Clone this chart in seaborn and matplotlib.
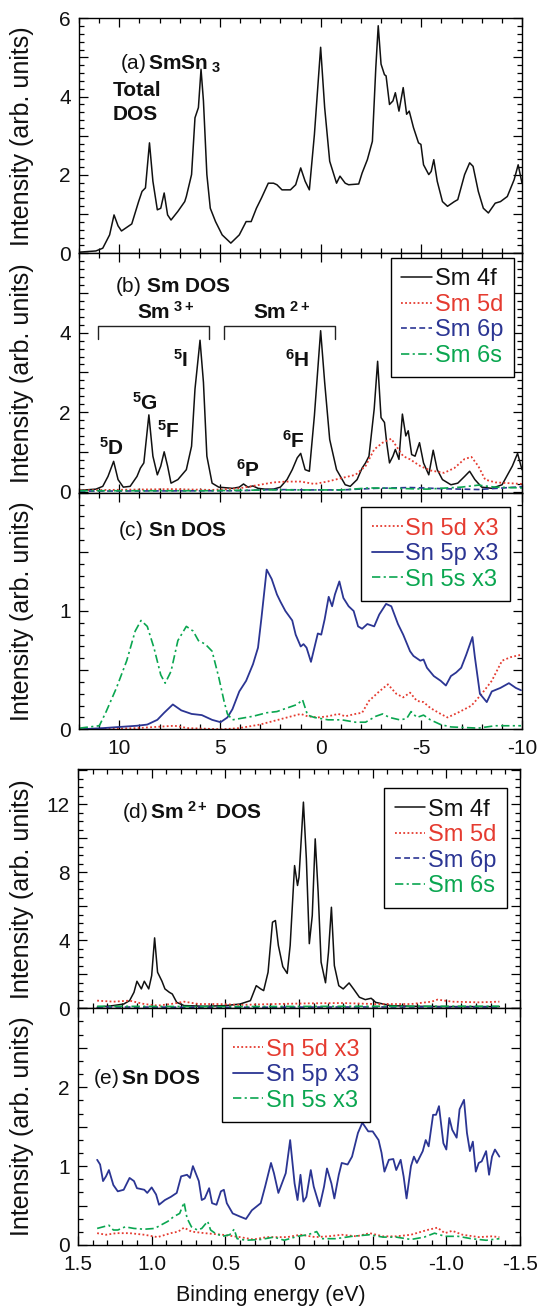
import matplotlib
matplotlib.use("Agg")
import matplotlib.pyplot as plt
from matplotlib.ticker import MultipleLocator, FixedLocator, FixedFormatter
import seaborn as sns

# ---------------- data ----------------
# (a) total DOS
a_x = [11.97, 11.16, 10.82, 10.48, 10.26, 10.06, 9.89, 9.38, 9.04, 8.87,
       8.70, 8.50, 8.33, 8.11, 7.94, 7.77, 7.60, 7.43, 7.09, 6.75,
       6.67, 6.41, 6.24, 6.07, 5.94, 5.82, 5.65, 5.48, 5.22, 4.89,
       4.46, 4.04, 3.70, 3.45, 3.19, 2.94, 2.60, 2.34, 2.17, 1.92,
       1.50, 1.24, 0.99, 0.77, 0.56, 0.31, 0.00, -0.20, -0.45, -0.79,
       -0.96, -1.22, -1.39, -1.89, -2.06, -2.32, -2.57, -2.74, -2.86, -3.00,
       -3.17, -3.25, -3.42, -3.59, -3.71, -3.89, -4.10, -4.27, -4.40, -4.61,
       -4.86, -4.98, -5.11, -5.37, -5.49, -5.62, -5.79, -6.05, -6.30, -6.64,
       -6.81, -7.15, -7.40, -7.57, -7.83, -8.08, -8.33, -8.67, -8.93, -9.27,
       -9.61, -9.81, -10.0]
a_total = [0.03, 0.06, 0.13, 0.47, 0.98, 0.70, 0.57, 0.75, 1.32, 1.58,
           1.67, 2.82, 1.84, 1.11, 1.15, 1.54, 0.98, 0.85, 1.07, 1.32,
           1.45, 2.01, 3.46, 3.72, 4.70, 3.89, 2.01, 1.15, 0.81, 0.47,
           0.26, 0.47, 0.81, 0.81, 1.15, 1.41, 1.79, 1.79, 1.75, 1.62,
           1.62, 1.75, 2.18, 1.84, 1.62, 3.03, 5.26, 3.72, 2.35, 1.79,
           1.97, 1.79, 1.75, 1.77, 2.05, 2.39, 2.86, 4.74, 5.81, 4.83,
           4.56, 4.53, 3.80, 3.89, 4.10, 3.63, 4.23, 3.55, 3.63, 3.21,
           2.82, 2.78, 2.26, 2.01, 2.09, 2.39, 1.84, 1.32, 1.20, 1.32,
           1.37, 2.01, 2.31, 2.22, 1.58, 1.15, 1.03, 1.28, 1.32, 1.45,
           1.88, 2.26, 1.79]

# (b) Sm partial DOS
b4f_x = [11.97, 11.16, 10.82, 10.56, 10.28, 10.06, 9.80, 9.46, 9.12, 8.95,
         8.78, 8.53, 8.33, 8.11, 7.94, 7.77, 7.60, 7.43, 7.09, 6.67,
         6.41, 6.24, 5.99, 5.82, 5.65, 5.39, 5.06, 4.38, 4.04, 3.83,
         3.61, 3.36, 3.11, 2.77, 2.34, 2.00, 1.67, 1.41, 1.16, 0.99,
         0.77, 0.56, 0.31, 0.00, -0.20, -0.45, -0.79, -1.22, -1.47, -1.81,
         -2.06, -2.23, -2.40, -2.66, -2.83, -3.00, -3.17, -3.28, -3.42, -3.59,
         -3.71, -3.89, -4.06, -4.23, -4.35, -4.52, -4.69, -4.91, -5.11, -5.37,
         -5.59, -5.79, -6.05, -6.47, -6.81, -7.15, -7.40, -7.66, -8.00, -8.50,
         -9.01, -9.52, -9.78, -10.0]
b4f_y = [0.03, 0.06, 0.13, 0.38, 0.76, 0.30, 0.11, 0.13, 0.38, 0.59,
         0.72, 1.93, 0.89, 0.42, 0.64, 1.00, 0.64, 0.21, 0.30, 0.55,
         1.14, 2.58, 3.81, 2.75, 0.89, 0.21, 0.11, 0.08, 0.11, 0.19,
         0.11, 0.14, 0.08, 0.06, 0.06, 0.11, 0.30, 0.55, 0.85, 0.96,
         0.55, 0.51, 1.91, 4.05, 2.75, 1.31, 0.55, 0.17, 0.13, 0.30,
         0.59, 0.72, 0.89, 2.08, 3.28, 1.86, 1.74, 1.23, 0.72, 0.89,
         1.06, 0.81, 1.95, 1.40, 1.53, 0.93, 0.89, 1.23, 0.72, 0.42,
         1.04, 0.55, 0.30, 0.17, 0.21, 0.38, 0.51, 0.30, 0.11, 0.08,
         0.17, 0.64, 0.96, 0.55]
b5d_x = [11.97, 7.43, 5.39, 4.04, 3.02, 2.34, 1.67, 0.99, 0.31, -0.33,
         -1.05, -1.73, -2.23, -2.66, -3.08, -3.51, -3.76, -4.10, -4.44, -4.95,
         -5.46, -6.13, -6.64, -7.15, -7.49, -7.83, -8.17, -8.67, -9.35, -10.0]
b5d_y = [0.03, 0.06, 0.04, 0.08, 0.17, 0.23, 0.25, 0.25, 0.19, 0.25,
         0.34, 0.42, 0.64, 1.06, 1.23, 1.33, 1.14, 0.89, 0.81, 0.64,
         0.53, 0.47, 0.59, 0.82, 0.87, 0.64, 0.30, 0.23, 0.21, 0.19]
b6p_x = [11.97, 4.04, 2.34, 0.65, -1.05, -2.74, -4.44, -6.13, -7.83, -10.0]
b6p_y = [0.01, 0.02, 0.05, 0.04, 0.04, 0.08, 0.10, 0.07, 0.05, 0.12]
b6s_x = [11.97, 5.73, 2.34, -1.05, -2.40, -3.59, -5.28, -6.98, -7.83, -8.67, -10.0]
b6s_y = [0.02, 0.02, 0.04, 0.04, 0.09, 0.08, 0.06, 0.11, 0.16, 0.11, 0.09]

# (c) Sn partial DOS (x3)
c5p_x = [11.97, 10.82, 9.97, 9.12, 8.61, 8.11, 7.77, 7.34, 6.92, 6.41,
         5.90, 5.39, 4.97, 4.63, 4.38, 4.04, 3.70, 3.36, 3.11, 2.94,
         2.68, 2.43, 2.17, 2.00, 1.75, 1.41, 1.24, 0.99, 0.85, 0.70,
         0.48, 0.31, 0.14, -0.03, -0.20, -0.40, -0.57, -0.71, -0.93, -1.13,
         -1.39, -1.64, -1.86, -2.06, -2.32, -2.66, -2.91, -3.25, -3.51, -3.84,
         -4.10, -4.27, -4.44, -4.61, -4.95, -5.11, -5.28, -5.62, -5.96, -6.22,
         -6.47, -6.73, -6.98, -7.23, -7.54, -7.66, -7.91, -8.25, -8.50, -8.93,
         -9.35, -9.69, -9.95]
c5p_y = [0.00, 0.01, 0.02, 0.03, 0.04, 0.08, 0.14, 0.21, 0.16, 0.13,
         0.12, 0.08, 0.06, 0.10, 0.17, 0.32, 0.41, 0.55, 0.69, 0.94,
         1.35, 1.27, 1.14, 1.08, 1.00, 0.92, 0.80, 0.70, 0.72, 0.69,
         0.57, 0.69, 0.81, 0.80, 0.93, 1.12, 1.04, 1.14, 1.25, 1.11,
         1.04, 1.00, 0.87, 0.85, 0.89, 0.87, 0.97, 1.06, 1.04, 0.89,
         0.80, 0.73, 0.66, 0.62, 0.58, 0.59, 0.52, 0.45, 0.41, 0.37,
         0.45, 0.48, 0.52, 0.63, 0.78, 0.61, 0.30, 0.23, 0.32, 0.35,
         0.39, 0.35, 0.33]
c5s_x = [11.97, 10.99, 10.65, 10.14, 9.63, 9.21, 8.92, 8.61, 8.28, 7.94,
         7.72, 7.43, 7.09, 6.67, 6.33, 6.07, 5.73, 5.39, 5.06, 4.80,
         4.63, 4.38, 4.04, 3.36, 2.68, 2.17, 1.67, 1.16, 0.90, 0.65,
         0.31, -0.37, -1.05, -1.73, -2.23, -2.74, -3.08, -3.42, -3.93, -4.27,
         -4.49, -4.78, -5.11, -5.45, -5.96, -6.47, -7.83, -8.67, -9.95]
c5s_y = [0.01, 0.03, 0.15, 0.35, 0.58, 0.83, 0.92, 0.87, 0.69, 0.46,
         0.39, 0.49, 0.75, 0.87, 0.83, 0.75, 0.72, 0.66, 0.44, 0.24,
         0.13, 0.08, 0.09, 0.11, 0.14, 0.15, 0.18, 0.21, 0.25, 0.12,
         0.10, 0.08, 0.08, 0.06, 0.06, 0.11, 0.13, 0.10, 0.08, 0.09,
         0.15, 0.10, 0.12, 0.08, 0.04, 0.02, 0.01, 0.03, 0.03]
c5d_x = [11.97, 9.12, 7.26, 6.58, 4.89, 4.04, 3.02, 2.34, 1.67, 0.99,
         0.65, 0.14, -0.37, -0.88, -1.22, -1.73, -2.06, -2.40, -2.91, -3.34,
         -3.76, -4.10, -4.44, -4.78, -5.11, -5.45, -5.96, -6.30, -6.81, -7.49,
         -8.00, -8.50, -9.01, -9.44, -9.95]
c5d_y = [0.00, 0.01, 0.03, 0.01, 0.00, 0.01, 0.04, 0.07, 0.10, 0.13,
         0.11, 0.10, 0.11, 0.13, 0.11, 0.13, 0.14, 0.24, 0.32, 0.38,
         0.30, 0.27, 0.31, 0.24, 0.23, 0.18, 0.13, 0.10, 0.14, 0.20,
         0.30, 0.41, 0.58, 0.61, 0.63]

# (d) Sm2+ partial DOS
d4f_x = [1.37, 1.26, 1.19, 1.15, 1.12, 1.10, 1.07, 1.05, 1.02, 1.00,
         0.98, 0.96, 0.93, 0.91, 0.88, 0.86, 0.83, 0.78, 0.64, 0.50,
         0.40, 0.33, 0.29, 0.26, 0.24, 0.21, 0.18, 0.16, 0.14, 0.11,
         0.08, 0.06, 0.03, 0.01, 0.00, -0.03, -0.05, -0.07, -0.09, -0.11,
         -0.13, -0.15, -0.18, -0.20, -0.22, -0.24, -0.27, -0.30, -0.34, -0.37,
         -0.41, -0.45, -0.49, -0.52, -0.62, -0.76, -0.99, -1.36]
d4f_y = [0.06, 0.16, 0.25, 0.45, 0.94, 1.59, 1.14, 1.59, 1.14, 1.92,
         4.14, 2.12, 1.59, 1.14, 0.94, 0.84, 0.35, 0.16, 0.12, 0.16,
         0.25, 0.45, 1.33, 1.14, 1.04, 2.12, 5.06, 5.16, 3.69, 2.45,
         2.05, 3.69, 8.39, 7.22, 7.71, 12.12, 8.78, 3.80, 5.45, 9.96,
         6.82, 2.71, 1.50, 3.29, 5.94, 2.51, 1.33, 1.14, 1.49, 1.14,
         0.65, 0.51, 0.59, 0.35, 0.16, 0.12, 0.10, 0.10]
d5d_x = [1.37, 1.26, 1.15, 1.05, 0.96, 0.87, 0.78, 0.68, 0.54, 0.40,
         0.17, -0.06, -0.29, -0.52, -0.76, -0.90, -0.94, -1.04, -1.22, -1.36]
d5d_y = [0.45, 0.39, 0.45, 0.25, 0.16, 0.25, 0.39, 0.25, 0.25, 0.20,
         0.25, 0.29, 0.31, 0.25, 0.25, 0.39, 0.51, 0.39, 0.35, 0.39]
d6p_x = [1.37, 0.50, -0.50, -1.36]
d6p_y = [0.08, 0.06, 0.08, 0.08]
d6s_x = [1.37, 0.50, -0.50, -1.36]
d6s_y = [0.12, 0.10, 0.12, 0.12]

# (e) Sn partial DOS (x3)
e5p_x = [1.37, 1.35, 1.33, 1.31, 1.29, 1.26, 1.23, 1.19, 1.15, 1.12,
         1.10, 1.05, 1.03, 1.00, 0.97, 0.95, 0.91, 0.87, 0.83, 0.80,
         0.76, 0.74, 0.72, 0.68, 0.66, 0.64, 0.61, 0.59, 0.56, 0.53,
         0.51, 0.49, 0.45, 0.40, 0.36, 0.32, 0.26, 0.23, 0.19, 0.17,
         0.14, 0.11, 0.09, 0.06, 0.03, 0.01, -0.01, -0.03, -0.05, -0.08,
         -0.10, -0.14, -0.17, -0.19, -0.22, -0.24, -0.27, -0.29, -0.33, -0.36,
         -0.40, -0.43, -0.47, -0.50, -0.54, -0.56, -0.58, -0.61, -0.64, -0.66,
         -0.69, -0.71, -0.73, -0.76, -0.78, -0.80, -0.84, -0.86, -0.88, -0.91,
         -0.93, -0.95, -0.98, -1.00, -1.02, -1.04, -1.07, -1.09, -1.12, -1.14,
         -1.16, -1.18, -1.20, -1.22, -1.24, -1.27, -1.29, -1.31, -1.33, -1.36]
e5p_y = [1.08, 1.02, 0.81, 0.87, 0.95, 0.76, 0.68, 0.70, 0.85, 0.81,
         0.72, 0.70, 0.66, 0.73, 0.64, 0.51, 0.57, 0.61, 0.66, 0.87,
         0.89, 0.85, 1.00, 0.81, 0.57, 0.59, 0.72, 0.53, 0.51, 0.68,
         0.70, 0.53, 0.40, 0.36, 0.33, 0.44, 0.53, 0.74, 1.04, 0.91,
         0.66, 0.81, 0.91, 1.33, 0.78, 0.57, 0.89, 0.55, 0.61, 0.95,
         0.74, 0.49, 0.74, 0.97, 0.78, 0.59, 0.89, 1.04, 1.02, 1.12,
         1.42, 1.55, 1.44, 1.44, 1.33, 1.17, 0.93, 1.08, 1.09, 0.95,
         1.08, 0.87, 0.59, 1.00, 1.12, 1.04, 1.19, 1.33, 1.25, 1.65,
         1.65, 1.76, 1.29, 1.21, 1.61, 1.46, 1.36, 1.72, 1.84, 1.42,
         1.19, 1.31, 0.93, 1.04, 1.06, 1.19, 0.89, 1.12, 1.21, 1.12]
e5s_x = [1.37, 1.33, 1.29, 1.26, 1.23, 1.18, 1.12, 1.05, 0.98, 0.94,
         0.89, 0.85, 0.81, 0.78, 0.76, 0.73, 0.69, 0.66, 0.62, 0.60,
         0.57, 0.52, 0.47, 0.44, 0.42, 0.36, 0.26, 0.17, 0.10, 0.01,
         -0.06, -0.12, -0.15, -0.25, -0.36, -0.48, -0.57, -0.66, -0.76, -0.85,
         -0.92, -0.99, -1.08, -1.17, -1.27, -1.36]
e5s_y = [0.21, 0.23, 0.25, 0.19, 0.19, 0.23, 0.21, 0.20, 0.21, 0.25,
         0.30, 0.36, 0.40, 0.54, 0.34, 0.23, 0.19, 0.21, 0.30, 0.19,
         0.15, 0.11, 0.13, 0.20, 0.08, 0.06, 0.07, 0.10, 0.06, 0.11,
         0.13, 0.17, 0.08, 0.08, 0.11, 0.13, 0.10, 0.10, 0.07, 0.10,
         0.15, 0.11, 0.11, 0.08, 0.06, 0.08]
e5d_x = [1.37, 1.31, 1.24, 1.15, 1.05, 0.96, 0.87, 0.82, 0.78, 0.73,
         0.64, 0.52, 0.40, 0.31, 0.22, 0.08, -0.01, -0.11, -0.20, -0.29,
         -0.39, -0.48, -0.57, -0.66, -0.76, -0.87, -0.94, -0.99, -1.04, -1.11,
         -1.22, -1.31, -1.36]
e5d_y = [0.15, 0.13, 0.15, 0.15, 0.13, 0.10, 0.15, 0.17, 0.22, 0.17,
         0.15, 0.13, 0.10, 0.07, 0.10, 0.10, 0.13, 0.10, 0.11, 0.13,
         0.11, 0.15, 0.11, 0.11, 0.13, 0.19, 0.22, 0.15, 0.18, 0.13,
         0.10, 0.11, 0.10]

# tick values / labels
top_xticks = [10, 5, 0, -5, -10]
top_xticklabels = ["10", "5", "0", "-5", "-10"]
bot_xticks = [1.5, 1.0, 0.5, 0.0, -0.5, -1.0, -1.5]
bot_xticklabels = ["1.5", "1.0", "0.5", "0", "0.5", "-1.0", "-1.5"]

# peak labels in (b): (superscript, letter, x, y)
peak_labels = [("5", "D", 11.02, 0.93), ("5", "G", 9.38, 2.05), ("5", "F", 8.11, 1.36),
               ("5", "I", 7.34, 3.14), ("6", "P", 4.21, 0.38), ("6", "F", 1.92, 1.10),
               ("6", "H", 1.75, 3.14)]
bracket_sm3 = (11.07, 5.53)
bracket_sm2 = (4.80, -0.71)
bracket_y = (3.84, 4.18)

# ---------------- style ----------------
sns.set_style("ticks")
plt.rcParams['font.family'] = ['Liberation Sans', 'DejaVu Sans']
plt.rcParams['mathtext.fontset'] = 'custom'
plt.rcParams['mathtext.rm'] = 'Liberation Sans'
plt.rcParams['mathtext.bf'] = 'Liberation Sans:bold'
plt.rcParams['mathtext.it'] = 'Liberation Sans:italic'
plt.rcParams['mathtext.sf'] = 'Liberation Sans'
plt.rcParams['legend.fancybox'] = False

RED = '#e53b30'
BLUE = '#2b3593'
GREEN = '#0aa650'
BLACK = '#111111'
DOT = (0, (1.0, 1.3))
DASH = (0, (3.5, 2.0))
DASHDOT = (0, (5.0, 2.0, 1.3, 2.0))

fig = plt.figure(figsize=(5.39, 13.06), dpi=100)
W, H = 539.0, 1306.0


def add_ax(left, right, top, bottom):
    return fig.add_axes([left / W, 1 - bottom / H, (right - left) / W, (bottom - top) / H])


ax_a = add_ax(79, 522, 18.3, 253.3)
ax_b = add_ax(79, 522, 253.3, 492.7)
ax_c = add_ax(79, 522, 492.7, 729.3)
ax_d = add_ax(78, 520, 769.3, 1008.3)
ax_e = add_ax(78, 520, 1008.3, 1245.0)


def draw(ax, x, y, color, ls='-', lw=1.1, label=None):
    sns.lineplot(x=x, y=y, ax=ax, color=color, linestyle=ls, linewidth=lw,
                 estimator=None, sort=False, label=label, legend=False)


def style(ax, xlim, ylim, xmaj, xminor, ymaj, ylabels, yminor, xlabels=None):
    ax.set_xlim(*xlim)
    ax.set_ylim(*ylim)
    ax.xaxis.set_major_locator(FixedLocator(xmaj))
    if xlabels is None:
        ax.xaxis.set_major_formatter(FixedFormatter([""] * len(xmaj)))
    else:
        ax.xaxis.set_major_formatter(FixedFormatter(xlabels))
    ax.xaxis.set_minor_locator(MultipleLocator(xminor))
    ax.yaxis.set_major_locator(FixedLocator(ymaj))
    ax.yaxis.set_major_formatter(FixedFormatter(ylabels))
    ax.yaxis.set_minor_locator(MultipleLocator(yminor))
    ax.tick_params(which='both', direction='in', top=True, right=True,
                   color='black', width=0.9, labelsize=15, labelcolor='#111111')
    ax.tick_params(which='major', length=6.5)
    ax.tick_params(which='minor', length=3.5)
    ax.tick_params(axis='y', pad=6)
    ax.tick_params(axis='x', pad=7)
    for s in ax.spines.values():
        s.set_linewidth(1.0)
        s.set_color('black')
    ax.set_xlabel("")
    ax.set_ylabel("Intensity (arb. units)", fontsize=18, color='#111111')


def legend(ax, labels_colors, loc, anchor):
    handles = ax.get_lines()[:len(labels_colors)]
    lg = ax.legend(handles=handles, labels=[l for l, c in labels_colors], loc=loc,
                   bbox_to_anchor=anchor, fontsize=17, handlelength=1.3,
                   handletextpad=0.12, borderpad=0.45, labelspacing=0.15,
                   borderaxespad=0.0, frameon=True)
    fr = lg.get_frame()
    fr.set_edgecolor('black')
    fr.set_linewidth(1.0)
    fr.set_facecolor('white')
    fr.set_alpha(1)
    for t, (l, c) in zip(lg.get_texts(), labels_colors):
        t.set_color(c)


# ---- (a)
draw(ax_a, a_x, a_total, BLACK, '-', 1.1)
style(ax_a, (12, -10), (0, 6), top_xticks, 1, [0, 1, 2, 3, 4, 5, 6],
      ["0", "", "2", "", "4", "", "6"], 0.2)
ax_a.text(0.093, 0.784, r'$\mathrm{(a)}\,\mathbf{SmSn}_{\mathbf{\ 3}}$', transform=ax_a.transAxes,
          fontsize=15, va='baseline', ha='left', color='#111111')
ax_a.text(0.077, 0.669, 'Total', transform=ax_a.transAxes, fontsize=15, fontweight='bold',
          va='baseline', ha='left', color='#111111')
ax_a.text(0.077, 0.569, 'DOS', transform=ax_a.transAxes, fontsize=15, fontweight='bold',
          va='baseline', ha='left', color='#111111')

# ---- (b)
draw(ax_b, b4f_x, b4f_y, BLACK, '-', 1.1)
draw(ax_b, b5d_x, b5d_y, RED, DOT, 1.3)
draw(ax_b, b6p_x, b6p_y, BLUE, DASH, 1.2)
draw(ax_b, b6s_x, b6s_y, GREEN, DASHDOT, 1.2)
style(ax_b, (12, -10), (-0.03, 6.0), top_xticks, 1, [0, 1, 2, 3, 4, 5, 6],
      ["0", "", "2", "", "4", "", ""], 0.2)
legend(ax_b, [("Sm 4f", BLACK), ("Sm 5d", RED), ("Sm 6p", BLUE), ("Sm 6s", GREEN)],
       'upper right', (0.982, 0.982))
ax_b.text(0.081, 0.838, r'$\mathrm{(b)}\ \mathbf{Sm\ DOS}$', transform=ax_b.transAxes,
          fontsize=15, va='baseline', ha='left', color='#111111')
ax_b.text(9.12, 4.35, r'Sm$^{\mathbf{\ 3+}}$', fontsize=15, fontweight='bold', va='baseline',
          ha='left', color='#111111')
ax_b.text(3.36, 4.35, r'Sm$^{\mathbf{\ 2+}}$', fontsize=15, fontweight='bold', va='baseline',
          ha='left', color='#111111')
for (x1, x2) in (bracket_sm3, bracket_sm2):
    ax_b.plot([x1, x1, x2, x2], [bracket_y[0], bracket_y[1], bracket_y[1], bracket_y[0]],
              color='#222222', lw=1.0)
for sup, let, px, py in peak_labels:
    ax_b.text(px, py, r'$^{\mathbf{' + sup + r'}}$' + let, fontsize=15, fontweight='bold',
              va='baseline', ha='left', color='#111111')

# ---- (c)
draw(ax_c, c5d_x, c5d_y, RED, DOT, 1.3)
draw(ax_c, c5p_x, c5p_y, BLUE, '-', 1.3)
draw(ax_c, c5s_x, c5s_y, GREEN, DASHDOT, 1.2)
style(ax_c, (12, -10), (0, 2.0), top_xticks, 1, [0, 0.5, 1, 1.5, 2],
      ["0", "", "1", "", ""], 0.1, xlabels=top_xticklabels)
legend(ax_c, [("Sn 5d x3", RED), ("Sn 5p x3", BLUE), ("Sn 5s x3", GREEN)],
       'upper right', (0.972, 0.94))
ax_c.text(0.088, 0.815, r'$\mathrm{(c)}\ \mathbf{Sn\ DOS}$', transform=ax_c.transAxes,
          fontsize=15, va='baseline', ha='left', color='#111111')

# ---- (d)
draw(ax_d, d4f_x, d4f_y, BLACK, '-', 1.1)
draw(ax_d, d5d_x, d5d_y, RED, DOT, 1.3)
draw(ax_d, d6p_x, d6p_y, BLUE, DASH, 1.2)
draw(ax_d, d6s_x, d6s_y, GREEN, DASHDOT, 1.2)
style(ax_d, (1.5, -1.5), (0, 14.05), bot_xticks, 0.1, [0, 2, 4, 6, 8, 10, 12, 14],
      ["0", "", "4", "", "8", "", "12", ""], 0.5)
legend(ax_d, [("Sm 4f", BLACK), ("Sm 5d", RED), ("Sm 6p", BLUE), ("Sm 6s", GREEN)],
       'upper right', (0.971, 0.922))
ax_d.text(0.099, 0.792, r'$\mathrm{(d)}\,\mathbf{Sm}^{\mathbf{\ 2+}}\mathbf{\ DOS}$',
          transform=ax_d.transAxes, fontsize=15, va='baseline', ha='left', color='#111111')

# ---- (e)
draw(ax_e, e5d_x, e5d_y, RED, DOT, 1.3)
draw(ax_e, e5p_x, e5p_y, BLUE, '-', 1.3)
draw(ax_e, e5s_x, e5s_y, GREEN, DASHDOT, 1.2)
style(ax_e, (1.5, -1.5), (0, 3.0), bot_xticks, 0.1, [0, 0.5, 1, 1.5, 2, 2.5, 3],
      ["0", "", "1", "", "2", "", ""], 1 / 6, xlabels=bot_xticklabels)
legend(ax_e, [("Sn 5d x3", RED), ("Sn 5p x3", BLUE), ("Sn 5s x3", GREEN)],
       'upper left', (0.326, 0.917))
ax_e.text(0.033, 0.682, r'$\mathrm{(e)}\,\mathbf{Sn\ DOS}$', transform=ax_e.transAxes,
          fontsize=15, va='baseline', ha='left', color='#111111')

for ax in (ax_a, ax_b, ax_c):
    ax.yaxis.set_label_coords(-0.1016, 0.5)
for ax in (ax_d, ax_e):
    ax.yaxis.set_label_coords(-0.0995, 0.5)

fig.text(271 / W, 5 / H, "Binding energy (eV)", fontsize=15.5, ha='center', va='baseline',
         color='#111111')

fig.savefig("out.png", dpi=100)
